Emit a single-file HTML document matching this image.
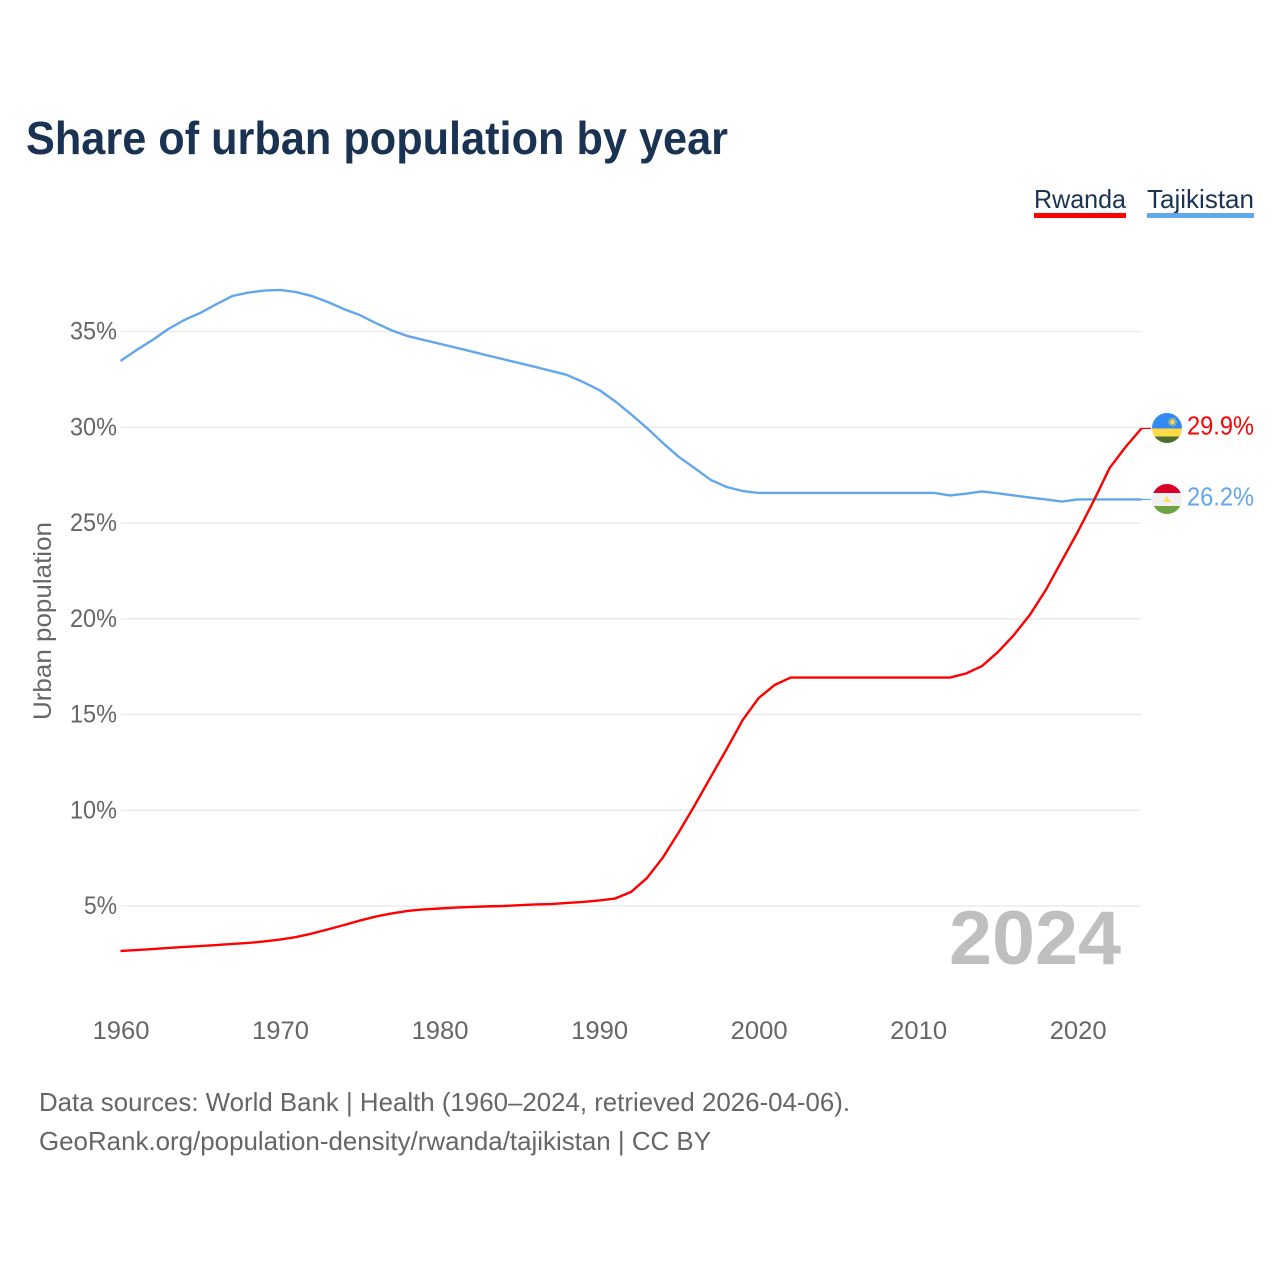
<!DOCTYPE html>
<html lang="en">
<head>
<meta charset="utf-8">
<title>Share of urban population by year</title>
<style>
  html, body { margin: 0; padding: 0; background: #fff; }
  svg { display: block; font-family: "Liberation Sans", sans-serif; }
</style>
</head>
<body>
<svg id="chart" width="1280" height="1280" viewBox="0 0 1280 1280" xmlns="http://www.w3.org/2000/svg">
  <rect width="1280" height="1280" fill="#fff"/>
  <text x="26" y="154" font-size="46" font-weight="700" fill="#1a3353" textLength="702" lengthAdjust="spacingAndGlyphs">Share of urban population by year</text>

  <g>
    <g>
      <text x="1034" y="208" font-size="26" fill="#1a3353" textLength="92" lengthAdjust="spacingAndGlyphs">Rwanda</text>
      <rect x="1034" y="213" width="92" height="5" fill="#ff0000"/>
    </g>
    <g>
      <text x="1147" y="208" font-size="26" fill="#1a3353" textLength="107" lengthAdjust="spacingAndGlyphs">Tajikistan</text>
      <rect x="1147" y="213" width="107" height="5" fill="#62a6ec"/>
    </g>
  </g>

  <g id="grid"></g>
  <g id="y-ticks"></g>
  <g id="x-ticks"></g>

  <text transform="translate(51,621) rotate(-90)" text-anchor="middle" font-size="25" fill="#666" textLength="198" lengthAdjust="spacingAndGlyphs">Urban population</text>

  <text x="949" y="964" font-size="76" font-weight="700" fill="#bfbfbf" textLength="172" lengthAdjust="spacingAndGlyphs">2024</text>

  <g id="series"></g>

  <defs>
    <clipPath id="clip-rw"><circle cx="1167" cy="428" r="15"/></clipPath>
    <clipPath id="clip-tj"><circle cx="1167" cy="499" r="15"/></clipPath>
  </defs>
  <g clip-path="url(#clip-rw)">
    <rect x="1152" y="413" width="30" height="15.5" fill="#338af3"/>
    <rect x="1152" y="428.5" width="30" height="8" fill="#ffda44"/>
    <rect x="1152" y="436.5" width="30" height="7" fill="#496e2d"/>
    <circle cx="1172.5" cy="422" r="2.4" fill="#ffda44"/>
    <circle cx="1172.5" cy="422" r="3.6" fill="none" stroke="#ffda44" stroke-width="1.2" stroke-dasharray="1 0.9"/>
  </g>
  <g clip-path="url(#clip-tj)">
    <rect x="1152" y="484" width="30" height="9" fill="#d80027"/>
    <rect x="1152" y="493" width="30" height="13" fill="#f0f0f0"/>
    <rect x="1152" y="506" width="30" height="8" fill="#6da544"/>
    <rect x="1164" y="499.5" width="6" height="2.5" fill="#ffda44"/>
    <circle cx="1167" cy="498" r="1.2" fill="#ffda44"/>
  </g>

  <text id="end-label-rwanda" x="1187" y="434.5" font-size="26" fill="#ff0000" textLength="67" lengthAdjust="spacingAndGlyphs"></text>
  <text id="end-label-tajikistan" x="1187" y="505.5" font-size="26" fill="#62a6ec" textLength="67" lengthAdjust="spacingAndGlyphs"></text>

  <text x="39" y="1111" font-size="26" fill="#666" textLength="811" lengthAdjust="spacingAndGlyphs">Data sources: World Bank | Health (1960–2024, retrieved 2026-04-06).</text>
  <text x="39" y="1150" font-size="26" fill="#666" textLength="672" lengthAdjust="spacingAndGlyphs">GeoRank.org/population-density/rwanda/tajikistan | CC BY</text>
</svg>

<script>
const startYear = 1960;
const xTickYears = [1960, 1970, 1980, 1990, 2000, 2010, 2020];
const yTickValues = [5, 10, 15, 20, 25, 30, 35];
const rwandaValues = [
  2.65, 2.70, 2.75, 2.81, 2.86, 2.91, 2.96, 3.02, 3.07, 3.15,
  3.25, 3.38, 3.56, 3.78, 4.00, 4.24, 4.45, 4.61, 4.74, 4.82,
  4.87, 4.92, 4.95, 4.98, 5.00, 5.04, 5.08, 5.10, 5.16, 5.21,
  5.29, 5.39, 5.73, 6.46, 7.53, 8.86, 10.27, 11.74, 13.20, 14.71,
  15.86, 16.54, 16.93, 16.93, 16.93, 16.93, 16.93, 16.93, 16.93, 16.93,
  16.93, 16.93, 16.93, 17.14, 17.53, 18.26, 19.15, 20.20, 21.50, 23.02,
  24.53, 26.15, 27.87, 28.97, 29.94
];
const tajikistanValues = [
  33.46, 34.03, 34.55, 35.13, 35.60, 35.97, 36.42, 36.85, 37.03, 37.14,
  37.17, 37.06, 36.85, 36.54, 36.17, 35.86, 35.44, 35.06, 34.76, 34.56,
  34.36, 34.16, 33.96, 33.75, 33.55, 33.35, 33.15, 32.94, 32.73, 32.36,
  31.95, 31.36, 30.68, 29.96, 29.18, 28.45, 27.86, 27.25, 26.88, 26.67,
  26.57, 26.57, 26.57, 26.57, 26.57, 26.57, 26.57, 26.57, 26.57, 26.57,
  26.57, 26.57, 26.44, 26.53, 26.65, 26.55, 26.44, 26.33, 26.23, 26.12,
  26.23, 26.23, 26.23, 26.23, 26.23
];
const rwandaEndLabel = "29.9%";
const tajikistanEndLabel = "26.2%";

const SVG_NS = "http://www.w3.org/2000/svg";
const yearSpan = rwandaValues.length - 1;
function xScale(year) { return 120.5 + (year - startYear) * (1141.5 - 120.5) / yearSpan; }
function yScale(v) { return 906 - (v - 5) * 19.15; }
function make(tag, attrs) {
  const el = document.createElementNS(SVG_NS, tag);
  for (const k in attrs) el.setAttribute(k, attrs[k]);
  return el;
}

const gridGroup = document.getElementById("grid");
const yTickGroup = document.getElementById("y-ticks");
yTickValues.forEach(function (v) {
  const line = make("line", { x1: 121, x2: 1141.5, y1: yScale(v), y2: yScale(v), stroke: "#ebebeb", "stroke-width": 1.5 });
  
  
  gridGroup.appendChild(line);

  const label = v + "%";
  const w = (String(v).length * 14) + 19;
  const t = make("text", { x: 117 - w, y: yScale(v) + 8, "font-size": 25, fill: "#666", textLength: w, lengthAdjust: "spacingAndGlyphs" });
  t.textContent = label;
  
  
  yTickGroup.appendChild(t);
});

const xTickGroup = document.getElementById("x-ticks");
xTickYears.forEach(function (yr) {
  const t = make("text", { x: xScale(yr) - 28, y: 1039, "font-size": 25, fill: "#666", textLength: 57, lengthAdjust: "spacingAndGlyphs" });
  t.textContent = String(yr);
  
  
  xTickGroup.appendChild(t);
});

function pathFor(values) {
  return values.map(function (v, i) {
    return (i ? "L" : "M") + xScale(startYear + i).toFixed(2) + " " + yScale(v).toFixed(2);
  }).join(" ");
}
const seriesGroup = document.getElementById("series");

const tajikLine = make("path", { d: pathFor(tajikistanValues), fill: "none", stroke: "#62a6ec", "stroke-width": 2.4, "stroke-linejoin": "round" });


seriesGroup.appendChild(tajikLine);

const rwandaLine = make("path", { d: pathFor(rwandaValues), fill: "none", stroke: "#ff0000", "stroke-width": 2.4, "stroke-linejoin": "round" });


seriesGroup.appendChild(rwandaLine);

const lastYear = startYear + yearSpan;
const rwLast = yScale(rwandaValues[yearSpan]);
const tjLast = yScale(tajikistanValues[yearSpan]);

const rwLeader = make("line", { x1: xScale(lastYear), x2: 1151, y1: rwLast, y2: rwLast, stroke: "#ff0000", "stroke-width": 1.2 });


seriesGroup.appendChild(rwLeader);

const tjLeader = make("line", { x1: xScale(lastYear), x2: 1151, y1: tjLast, y2: tjLast, stroke: "#62a6ec", "stroke-width": 1.2 });


seriesGroup.appendChild(tjLeader);

document.getElementById("end-label-rwanda").textContent = rwandaEndLabel;
document.getElementById("end-label-tajikistan").textContent = tajikistanEndLabel;
</script>
</body>
</html>
